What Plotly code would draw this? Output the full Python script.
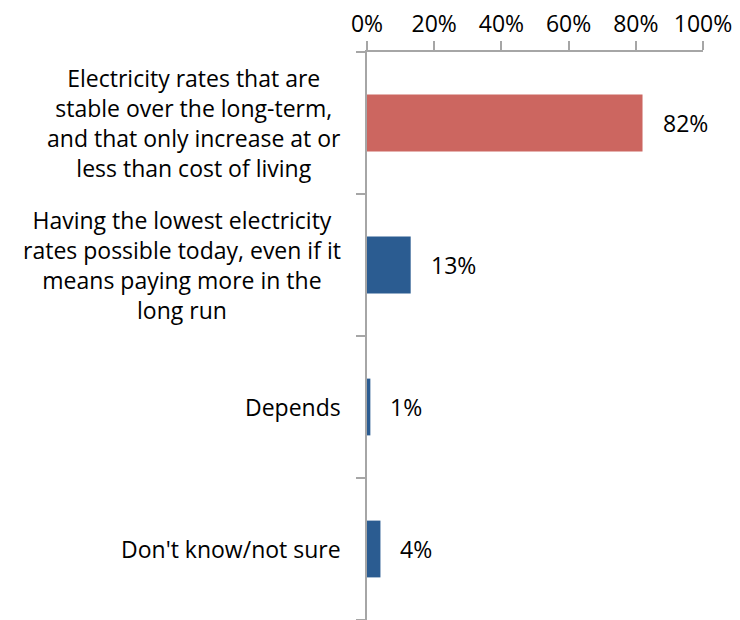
import plotly.graph_objects as go

categories = [
    "Electricity rates that are<br>stable over the long-term,<br>and that only increase at or<br>less than cost of living",
    "Having the lowest electricity<br>rates possible today, even if it<br>means paying more in the<br>long run",
    "Depends",
    "Don't know/not sure",
]
values = [0.82, 0.13, 0.01, 0.04]
value_labels = ["82%", "13%", "1%", "4%"]
bar_colors = ["#CC6660", "#2B5C91", "#2B5C91", "#2B5C91"]
tick_values = [0, 0.2, 0.4, 0.6, 0.8, 1.0]
tick_labels = ["0%", "20%", "40%", "60%", "80%", "100%"]

FONT = "Open Sans"
GREY = "#A6A6A6"
TEXT_SIZE = 23

fig = go.Figure()
fig.add_trace(go.Bar(
    x=values,
    y=list(range(len(categories))),
    orientation="h",
    width=0.4,
    marker=dict(color=bar_colors, line=dict(width=0)),
    hoverinfo="skip",
))

annotations = []
for i, (cat, v, lab) in enumerate(zip(categories, values, value_labels)):
    annotations.append(dict(
        x=-0.07, xref="paper", y=i, yref="y",
        text=cat, showarrow=False, xanchor="right", yanchor="middle",
        align="center", font=dict(family=FONT, size=TEXT_SIZE, color="#000000"),
    ))
    annotations.append(dict(
        x=v, xref="x", y=i, yref="y",
        text=lab, showarrow=False, xanchor="left", yanchor="middle",
        xshift=18, font=dict(family=FONT, size=TEXT_SIZE, color="#000000"),
    ))

fig.update_layout(
    width=740, height=620,
    margin=dict(l=367, r=37, t=52, b=0),
    paper_bgcolor="white", plot_bgcolor="white",
    showlegend=False,
    annotations=annotations,
    xaxis=dict(
        side="top", range=[0, 1], tickvals=tick_values, ticktext=tick_labels,
        showgrid=False, zeroline=False, showline=True, linecolor=GREY, linewidth=2,
        ticks="outside", ticklen=9, tickwidth=2, tickcolor=GREY,
        tickfont=dict(family=FONT, size=TEXT_SIZE, color="#000000"),
        fixedrange=True,
    ),
    yaxis=dict(
        range=[len(categories) - 0.5, -0.5],
        tickvals=[-0.5, 0.5, 1.5, 2.5, 3.5], ticktext=["", "", "", "", ""],
        showgrid=False, zeroline=False, showline=True, linecolor=GREY, linewidth=2,
        ticks="outside", ticklen=9, tickwidth=2, tickcolor=GREY,
        fixedrange=True,
    ),
)

fig.write_html("out.html", config={"displayModeBar": False})
